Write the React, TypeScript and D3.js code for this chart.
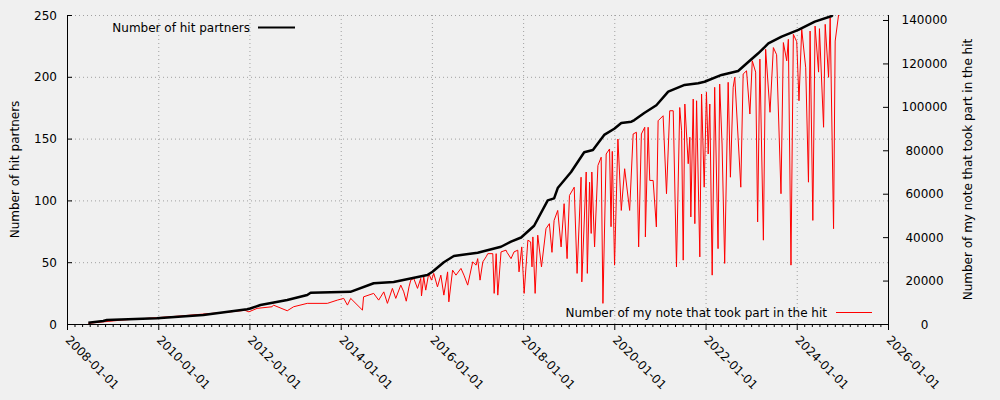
import * as d3 from "d3";

const WIDTH = 1000;
const HEIGHT = 400;
const MARGIN = { top: 15, right: 112, bottom: 76, left: 67 };
const FONT = "DejaVu Sans, sans-serif";

// Number of hit partners (left axis)
const partnerDates = [
  "2008-06-20", "2008-10-17", "2008-11-15", "2009-12-20", "2010-12-27", "2011-12-13",
  "2012-01-08", "2012-03-29", "2012-10-30", "2013-04-08", "2013-05-05", "2014-03-20",
  "2014-09-22", "2015-03-01", "2015-11-26", "2016-01-06", "2016-04-06", "2016-06-25",
  "2016-08-21", "2017-01-02", "2017-07-08", "2017-09-26", "2017-12-16", "2018-03-30",
  "2018-07-17", "2018-09-06", "2018-10-05", "2019-01-20", "2019-05-05", "2019-07-14",
  "2019-10-12", "2020-01-01", "2020-02-26", "2020-05-17", "2020-06-10", "2020-08-28",
  "2020-12-03", "2021-03-08", "2021-07-17", "2021-11-03", "2021-12-24", "2022-05-09",
  "2022-09-19", "2022-12-09", "2023-02-27", "2023-05-19", "2023-09-02", "2024-01-14",
  "2024-05-25", "2024-10-08", "2024-10-15",
];
const partnerCounts = [
  1, 2.4, 3.2, 4.6, 7.3, 11.9,
  12.5, 15.4, 19.4, 23.5, 25.3, 26,
  33, 34, 39.6, 42.3, 50, 55,
  55.8, 57.7, 62.5, 66.6, 70, 79.5,
  100, 101.6, 110, 123, 139, 140.8,
  153, 158, 162.6, 163.7, 165, 170.7,
  177, 188, 193.4, 194.8, 196, 201.5,
  204.7, 212, 219, 227, 232.5, 238,
  244.6, 249.2, 250,
];

// Number of my notes that took part in the hit (right axis)
const noteDates = [
  "2008-06-20", "2008-11-25", "2009-03-15", "2009-12-20", "2010-07-01", "2011-01-01",
  "2011-07-01", "2011-11-25", "2011-12-28", "2012-03-02", "2012-07-01", "2012-07-11",
  "2012-10-30", "2012-12-20", "2013-04-08", "2013-09-16", "2013-12-05", "2014-01-25",
  "2014-02-24", "2014-03-22", "2014-06-24", "2014-07-03", "2014-09-22", "2014-11-01",
  "2014-12-12", "2015-01-10", "2015-02-19", "2015-03-18", "2015-04-27", "2015-05-21",
  "2015-06-10", "2015-07-02", "2015-07-16", "2015-08-09", "2015-09-08", "2015-10-04",
  "2015-10-10", "2015-10-28", "2015-11-13", "2015-12-07", "2015-12-29", "2016-01-16",
  "2016-02-15", "2016-03-13", "2016-04-06", "2016-05-06", "2016-05-16", "2016-06-15",
  "2016-07-12", "2016-08-21", "2016-09-14", "2016-10-14", "2016-11-23", "2016-12-20",
  "2017-01-02", "2017-01-21", "2017-02-12", "2017-03-10", "2017-03-24", "2017-05-03",
  "2017-05-14", "2017-05-30", "2017-06-12", "2017-07-08", "2017-08-17", "2017-08-25",
  "2017-09-26", "2017-10-20", "2017-11-19", "2017-11-29", "2017-12-21", "2018-01-09",
  "2018-02-08", "2018-03-02", "2018-03-13", "2018-03-20", "2018-04-07", "2018-04-28",
  "2018-05-28", "2018-07-03", "2018-07-30", "2018-08-20", "2018-09-06", "2018-10-05",
  "2018-11-01", "2018-11-25", "2018-12-19", "2019-01-07", "2019-02-14", "2019-03-09",
  "2019-04-10", "2019-04-16", "2019-05-21", "2019-05-30", "2019-06-17", "2019-06-30",
  "2019-07-05", "2019-07-27", "2019-08-23", "2019-09-18", "2019-10-02", "2019-10-28",
  "2019-11-24", "2019-12-06", "2019-12-16", "2020-01-03", "2020-01-30", "2020-02-26",
  "2020-03-24", "2020-05-03", "2020-05-31", "2020-06-26", "2020-07-14", "2020-08-05",
  "2020-09-01", "2020-09-06", "2020-09-28", "2020-10-11", "2020-11-07", "2020-12-03",
  "2020-12-17", "2021-01-26", "2021-02-22", "2021-03-20", "2021-04-17", "2021-05-13",
  "2021-06-08", "2021-06-23", "2021-07-06", "2021-07-19", "2021-08-15", "2021-08-28",
  "2021-09-05", "2021-09-24", "2021-10-07", "2021-10-21", "2021-11-16", "2021-11-30",
  "2021-12-21", "2022-01-08", "2022-01-22", "2022-02-04", "2022-02-23", "2022-03-15",
  "2022-04-11", "2022-04-24", "2022-05-13", "2022-06-03", "2022-07-01", "2022-07-19",
  "2022-08-10", "2022-08-23", "2022-09-19", "2022-10-10", "2022-10-29", "2022-11-25",
  "2022-12-22", "2023-01-10", "2023-02-06", "2023-02-22", "2023-03-12", "2023-04-09",
  "2023-04-27", "2023-06-01", "2023-06-28", "2023-07-24", "2023-08-28", "2023-09-16",
  "2023-10-13", "2023-10-26", "2023-11-16", "2023-12-05", "2024-01-01", "2024-01-19",
  "2024-02-10", "2024-03-13", "2024-04-04", "2024-04-17", "2024-05-09", "2024-05-27",
  "2024-06-24", "2024-07-01", "2024-08-03", "2024-08-16", "2024-09-12", "2024-09-25",
  "2024-10-22", "2024-11-04", "2024-12-01",
];
const noteCounts = [
  300, 1200, 1800, 2900, 3700, 4600,
  5400, 6300, 5600, 7200, 7950, 8700,
  6100, 7950, 9500, 9500, 11000, 11800,
  8700, 11800, 6400, 12500, 14100, 11000,
  14800, 9500, 16400, 11800, 17900, 14800,
  10500, 17100, 20200, 21000, 16400, 21000,
  12900, 21700, 15600, 23300, 20200, 23300,
  17100, 22500, 13300, 24000, 10200, 24800,
  22500, 25600, 22500, 17900, 28600, 27100,
  30100, 20200, 28600, 30900, 32400, 32400,
  14100, 32400, 13300, 33200, 34000, 33000,
  30100, 33200, 34000, 24000, 35500, 14100,
  38600, 37800, 26300, 40100, 14100, 40900,
  26300, 43900, 46200, 33000, 47700, 52300,
  35500, 55400, 30100, 59200, 63000, 23300,
  67600, 19400, 70000, 23300, 65300, 41700,
  70000, 35500, 73000, 76800, 9500, 78300,
  80600, 44800, 79500, 27100, 85200, 52300,
  71500, 52300, 87500, 88300, 35500, 87500,
  90600, 40100, 90600, 66100, 66100, 44700,
  93600, 95900, 60000, 98200, 98200, 26300,
  99700, 89000, 29400, 101300, 73800, 86000,
  49300, 103600, 46200, 102800, 30900, 105900,
  63000, 106700, 78300, 101300, 22500, 109000,
  34700, 110500, 82900, 27900, 111300, 67600,
  109000, 113600, 85200, 63000, 115100, 116600,
  96700, 121200, 116000, 47000, 122000, 38600,
  126500, 97500, 127300, 124000, 60000, 129600,
  121200, 131100, 27100, 133400, 130000, 102800,
  135700, 118000, 65300, 134900, 47700, 137200,
  116000, 136000, 90600, 138000, 113600, 141000,
  43900, 130300, 142300,
];

const leftTicks = [0, 50, 100, 150, 200, 250];
const rightTicks = [0, 20000, 40000, 60000, 80000, 100000, 120000, 140000];
const dateTicks = [
  "2008-01-01", "2010-01-01", "2012-01-01", "2014-01-01", "2016-01-01",
  "2018-01-01", "2020-01-01", "2022-01-01", "2024-01-01", "2026-01-01",
];

const parseDate = d3.timeParse("%Y-%m-%d");

export default function App() {
  const innerW = WIDTH - MARGIN.left - MARGIN.right;
  const innerH = HEIGHT - MARGIN.top - MARGIN.bottom;

  const x = d3
    .scaleTime()
    .domain([parseDate(dateTicks[0])!, parseDate(dateTicks[dateTicks.length - 1])!])
    .range([0, innerW]);
  const yLeft = d3.scaleLinear().domain([0, 250]).range([innerH, 0]);
  const yRight = d3.scaleLinear().domain([0, 142300]).range([innerH, 0]);

  const partners = partnerDates.map((d, i) => ({ date: parseDate(d)!, v: partnerCounts[i] }));
  const notes = noteDates.map((d, i) => ({ date: parseDate(d)!, v: noteCounts[i] }));

  const partnerLine = d3
    .line<{ date: Date; v: number }>()
    .x((d) => x(d.date))
    .y((d) => yLeft(d.v));
  const noteLine = d3
    .line<{ date: Date; v: number }>()
    .x((d) => x(d.date))
    .y((d) => yRight(d.v));

  const majorDates = dateTicks.map((d) => parseDate(d)!);
  const minorDates = d3.timeMonth
    .every(2)!
    .range(majorDates[0], majorDates[majorDates.length - 1])
    .filter((d) => !(d.getMonth() === 0 && d.getFullYear() % 2 === 0));

  const grid = { stroke: "#a0a0a0", strokeWidth: 1, strokeDasharray: "1,3" };

  return (
    <div style={{ position: "fixed", left: 0, top: 0, width: WIDTH, height: HEIGHT, background: "#f0f0f0" }}>
      <svg width={WIDTH} height={HEIGHT} style={{ display: "block", fontFamily: FONT }}>
        <defs>
          <clipPath id="plot-clip">
            <rect x={0} y={0} width={innerW} height={innerH} />
          </clipPath>
        </defs>
        <g transform={`translate(${MARGIN.left},${MARGIN.top})`}>
          {/* grid */}
          {leftTicks.map((t) => (
            <line key={`gy${t}`} x1={0} x2={innerW} y1={yLeft(t) + 0.5} y2={yLeft(t) + 0.5} {...grid} />
          ))}
          {majorDates.slice(1, -1).map((d) => (
            <line key={`gx${d.getTime()}`} x1={x(d) + 0.5} x2={x(d) + 0.5} y1={0} y2={innerH} {...grid} />
          ))}

          {/* series */}
          <g clipPath="url(#plot-clip)">
            <path d={noteLine(notes) ?? ""} fill="none" stroke="#ff0000" strokeWidth={1} strokeLinejoin="round" />
            <path d={partnerLine(partners) ?? ""} fill="none" stroke="#000" strokeWidth={2.5} strokeLinejoin="round" />
          </g>

          {/* left axis */}
          <line x1={0.5} x2={0.5} y1={0} y2={innerH} stroke="#000" />
          {leftTicks.map((t) => (
            <g key={`ly${t}`} transform={`translate(0,${yLeft(t) + 0.5})`}>
              <line x1={0} x2={5} stroke="#000" />
              <text x={-10} textAnchor="end" dominantBaseline="central" fontSize={12}>
                {t}
              </text>
            </g>
          ))}

          {/* right axis */}
          <line x1={innerW + 0.5} x2={innerW + 0.5} y1={0} y2={innerH} stroke="#000" />
          {rightTicks.map((t) => (
            <g key={`ry${t}`} transform={`translate(${innerW},${yRight(t) + 0.5})`}>
              <line x1={-5} x2={0} stroke="#000" />
              <text x={36.5} textAnchor="middle" dominantBaseline="central" fontSize={12}>
                {t}
              </text>
            </g>
          ))}

          {/* bottom axis */}
          <line x1={0} x2={innerW + 1} y1={innerH + 0.5} y2={innerH + 0.5} stroke="#000" />
          {minorDates.map((d) => (
            <line key={`mx${d.getTime()}`} x1={x(d) + 0.5} x2={x(d) + 0.5} y1={innerH} y2={innerH + 3} stroke="#000" />
          ))}
          {majorDates.map((d, i) => (
            <g key={`bx${i}`} transform={`translate(${x(d) + 0.5},${innerH})`}>
              <line y1={0} y2={6} stroke="#000" />
              <text
                transform="translate(0,14) rotate(45)"
                textAnchor="start"
                dominantBaseline="central"
                fontSize={12}
              >
                {dateTicks[i]}
              </text>
            </g>
          ))}

          {/* legends */}
          <text x={183} y={13} textAnchor="end" dominantBaseline="central" fontSize={12}>
            Number of hit partners
          </text>
          <line x1={191} x2={228} y1={12.5} y2={12.5} stroke="#000" strokeWidth={2} />
          <text x={760} y={298} textAnchor="end" dominantBaseline="central" fontSize={12}>
            Number of my note that took part in the hit
          </text>
          <line x1={769} x2={805} y1={297.5} y2={297.5} stroke="#ff0000" strokeWidth={1} />
        </g>

        {/* axis titles */}
        <text
          transform={`translate(15,${MARGIN.top + innerH / 2}) rotate(-90)`}
          textAnchor="middle"
          dominantBaseline="central"
          fontSize={12}
        >
          Number of hit partners
        </text>
        <text
          transform={`translate(968,${MARGIN.top + innerH / 2}) rotate(-90)`}
          textAnchor="middle"
          dominantBaseline="central"
          fontSize={12}
        >
          Number of my note that took part in the hit
        </text>
      </svg>
    </div>
  );
}
